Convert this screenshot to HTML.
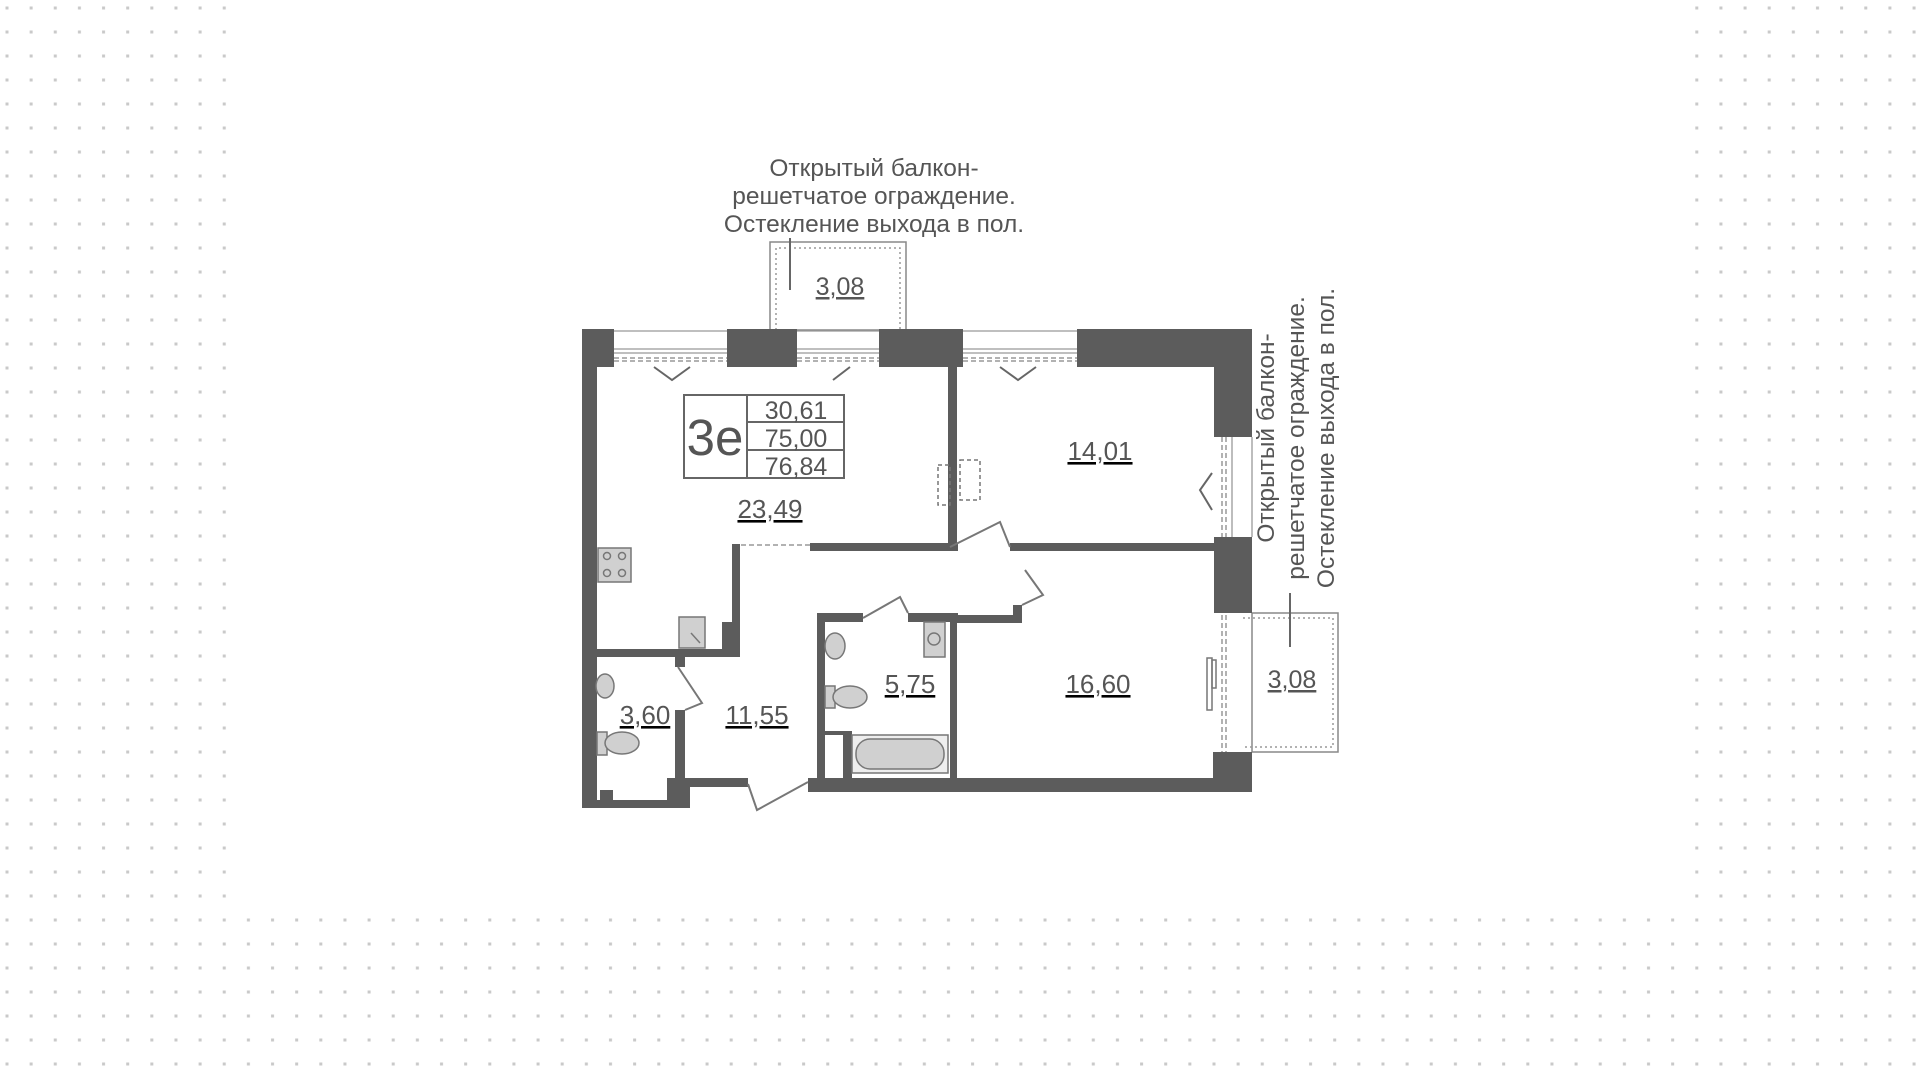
<!DOCTYPE html>
<html><head><meta charset="utf-8"><style>
html,body{margin:0;padding:0;background:#fff;}
svg{display:block;}
text{font-family:"Liberation Sans",Arial,sans-serif;fill:#555;}
</style></head><body>
<svg width="1920" height="1078" viewBox="0 0 1920 1078" xmlns="http://www.w3.org/2000/svg">
<defs>
<pattern id="dots" x="0" y="0" width="24.14" height="24" patternUnits="userSpaceOnUse">
<rect x="5.5" y="6.5" width="3" height="3" fill="#c9c9c9"/>
</pattern>
</defs>
<rect width="1920" height="1078" fill="url(#dots)"/>
<rect x="236" y="0" width="1449" height="910" fill="#fff"/>

<rect x="770" y="242" width="136" height="88" fill="none" stroke="#888" stroke-width="1.5"/>
<polyline points="776,330 776,248 900,248 900,330" fill="none" stroke="#999" stroke-width="1.5" stroke-dasharray="2,3"/>
<line x1="790" y1="238" x2="790" y2="290" stroke="#666" stroke-width="2"/>
<text x="840" y="295" font-size="25" text-anchor="middle" text-decoration="underline">3,08</text>
<text x="874" y="176" font-size="24.5" text-anchor="middle">Открытый балкон-</text>
<text x="874" y="204" font-size="24.5" text-anchor="middle">решетчатое ограждение.</text>
<text x="874" y="232" font-size="24.5" text-anchor="middle">Остекление выхода в пол.</text>

<rect x="1252" y="613" width="86" height="139" fill="none" stroke="#888" stroke-width="1.5"/>
<polyline points="1243,618 1333,618 1333,747 1243,747" fill="none" stroke="#999" stroke-width="1.5" stroke-dasharray="2,3"/>
<line x1="1290" y1="593" x2="1290" y2="647" stroke="#666" stroke-width="2"/>
<text x="1292" y="688" font-size="25" text-anchor="middle" text-decoration="underline">3,08</text>
<g transform="translate(1298,438) rotate(-90)">
<text x="0" y="-24" font-size="24.5" text-anchor="middle">Открытый балкон-</text>
<text x="0" y="6" font-size="24.5" text-anchor="middle">решетчатое ограждение.</text>
<text x="0" y="36" font-size="24.5" text-anchor="middle">Остекление выхода в пол.</text>
</g>

<g stroke="#999" stroke-width="1.3" fill="none">
<line x1="614" y1="331" x2="727" y2="331"/><line x1="614" y1="349" x2="727" y2="349"/><line x1="614" y1="353" x2="727" y2="353"/>
<line x1="797" y1="331" x2="879" y2="331"/><line x1="797" y1="349" x2="879" y2="349"/><line x1="797" y1="353" x2="879" y2="353"/>
<line x1="963" y1="331" x2="1077" y2="331"/><line x1="963" y1="349" x2="1077" y2="349"/><line x1="963" y1="353" x2="1077" y2="353"/>
<line x1="1232" y1="437" x2="1232" y2="537"/><line x1="1252" y1="437" x2="1252" y2="537"/>
</g>
<g stroke="#999" stroke-width="1.5" fill="none" stroke-dasharray="5,3">
<line x1="614" y1="358" x2="727" y2="358"/><line x1="614" y1="361" x2="727" y2="361"/>
<line x1="797" y1="358" x2="879" y2="358"/><line x1="797" y1="361" x2="879" y2="361"/>
<line x1="963" y1="358" x2="1077" y2="358"/><line x1="963" y1="361" x2="1077" y2="361"/>
<line x1="1222" y1="437" x2="1222" y2="537"/><line x1="1226" y1="437" x2="1226" y2="537"/>
<line x1="1222" y1="615" x2="1222" y2="752"/><line x1="1226" y1="615" x2="1226" y2="752"/>
<line x1="733" y1="545" x2="810" y2="545"/>
</g>
<g stroke="#666" stroke-width="2" fill="none">
<polyline points="654,367 672,380 690,367"/>
<line x1="833" y1="380" x2="850" y2="367"/>
<polyline points="1000,367 1018,380 1036,367"/>
<polyline points="1212,473 1200,490 1212,510"/>
</g>

<g fill="#5c5c5c">
<rect x="582" y="329" width="32" height="38"/>
<rect x="582" y="329" width="15" height="479"/>
<rect x="727" y="329" width="70" height="38"/>
<rect x="879" y="329" width="84" height="38"/>
<rect x="1077" y="329" width="175" height="38"/>
<rect x="1214" y="329" width="38" height="108"/>
<rect x="948" y="367" width="9" height="184"/>
<rect x="810" y="543" width="148" height="8"/>
<rect x="1010" y="543" width="213" height="8"/>
<rect x="1214" y="537" width="38" height="76"/>
<rect x="1213" y="752" width="39" height="40"/>
<rect x="732" y="544" width="8" height="111"/>
<rect x="722" y="622" width="18" height="33"/>
<rect x="582" y="649" width="158" height="8"/>
<rect x="675" y="655" width="10" height="12"/>
<rect x="675" y="710" width="10" height="98"/>
<rect x="582" y="800" width="108" height="8"/>
<rect x="667" y="778" width="23" height="30"/>
<rect x="685" y="778" width="63" height="9"/>
<rect x="600" y="790" width="13" height="10"/>
<rect x="808" y="778" width="444" height="14"/>
<rect x="817" y="613" width="8" height="179"/>
<rect x="817" y="613" width="46" height="9"/>
<rect x="908" y="613" width="50" height="9"/>
<rect x="950" y="615" width="7" height="177"/>
<rect x="950" y="615" width="72" height="8"/>
<rect x="1013" y="605" width="9" height="18"/>
<rect x="825" y="731" width="27" height="4"/>
<rect x="843" y="735" width="9" height="45"/>
</g>

<g stroke="#777" stroke-width="2" fill="none">
<polyline points="950,547 1000,522 1010,547"/>
<polyline points="1022,605 1043,595 1025,570"/>
<polyline points="863,618 900,597 908,613"/>
<polyline points="678,667 702,703 685,710"/>
<polyline points="748,784 757,810 808,782"/>
</g>

<g fill="#d0d0d0" stroke="#777" stroke-width="1.5">
<rect x="598" y="548" width="33" height="34"/>
<rect x="679" y="617" width="26" height="31"/>
<rect x="924" y="622" width="21" height="35"/>
<rect x="852" y="735" width="96" height="38" fill="#eee"/>
<rect x="856" y="739" width="88" height="30" rx="14"/>
<ellipse cx="835" cy="646" rx="10" ry="13"/>
<ellipse cx="605" cy="686" rx="9" ry="12"/>
<rect x="825" y="686" width="10" height="22"/>
<ellipse cx="850" cy="697" rx="17" ry="11"/>
<rect x="597" y="732" width="10" height="23"/>
<ellipse cx="622" cy="743" rx="17" ry="11"/>
</g>
<g fill="none" stroke="#777" stroke-width="1.5">
<circle cx="607" cy="556" r="3.5"/><circle cx="622" cy="556" r="3.5"/>
<circle cx="607" cy="573" r="3.5"/><circle cx="622" cy="573" r="3.5"/>
<circle cx="934" cy="639" r="6"/>
<line x1="691" y1="633" x2="700" y2="643"/>
<rect x="1207" y="658" width="5" height="52"/><rect x="1212" y="660" width="4" height="28"/>
<rect x="938" y="465" width="12" height="40" stroke-dasharray="4,3"/>
<rect x="960" y="460" width="20" height="40" stroke-dasharray="4,3"/>
</g>

<g fill="none" stroke="#666" stroke-width="2">
<rect x="684" y="395" width="160" height="83"/>
<line x1="747" y1="395" x2="747" y2="478"/>
<line x1="747" y1="422" x2="844" y2="422"/>
<line x1="747" y1="450" x2="844" y2="450"/>
</g>
<text x="715" y="455" font-size="51" text-anchor="middle">3е</text>
<text x="796" y="419" font-size="25" text-anchor="middle">30,61</text>
<text x="796" y="447" font-size="25" text-anchor="middle">75,00</text>
<text x="796" y="475" font-size="25" text-anchor="middle">76,84</text>

<g font-size="26" text-anchor="middle" text-decoration="underline">
<text x="770" y="518">23,49</text>
<text x="1100" y="460">14,01</text>
<text x="1098" y="693">16,60</text>
<text x="910" y="693">5,75</text>
<text x="645" y="724">3,60</text>
<text x="757" y="724">11,55</text>
</g>
</svg>
</body></html>
